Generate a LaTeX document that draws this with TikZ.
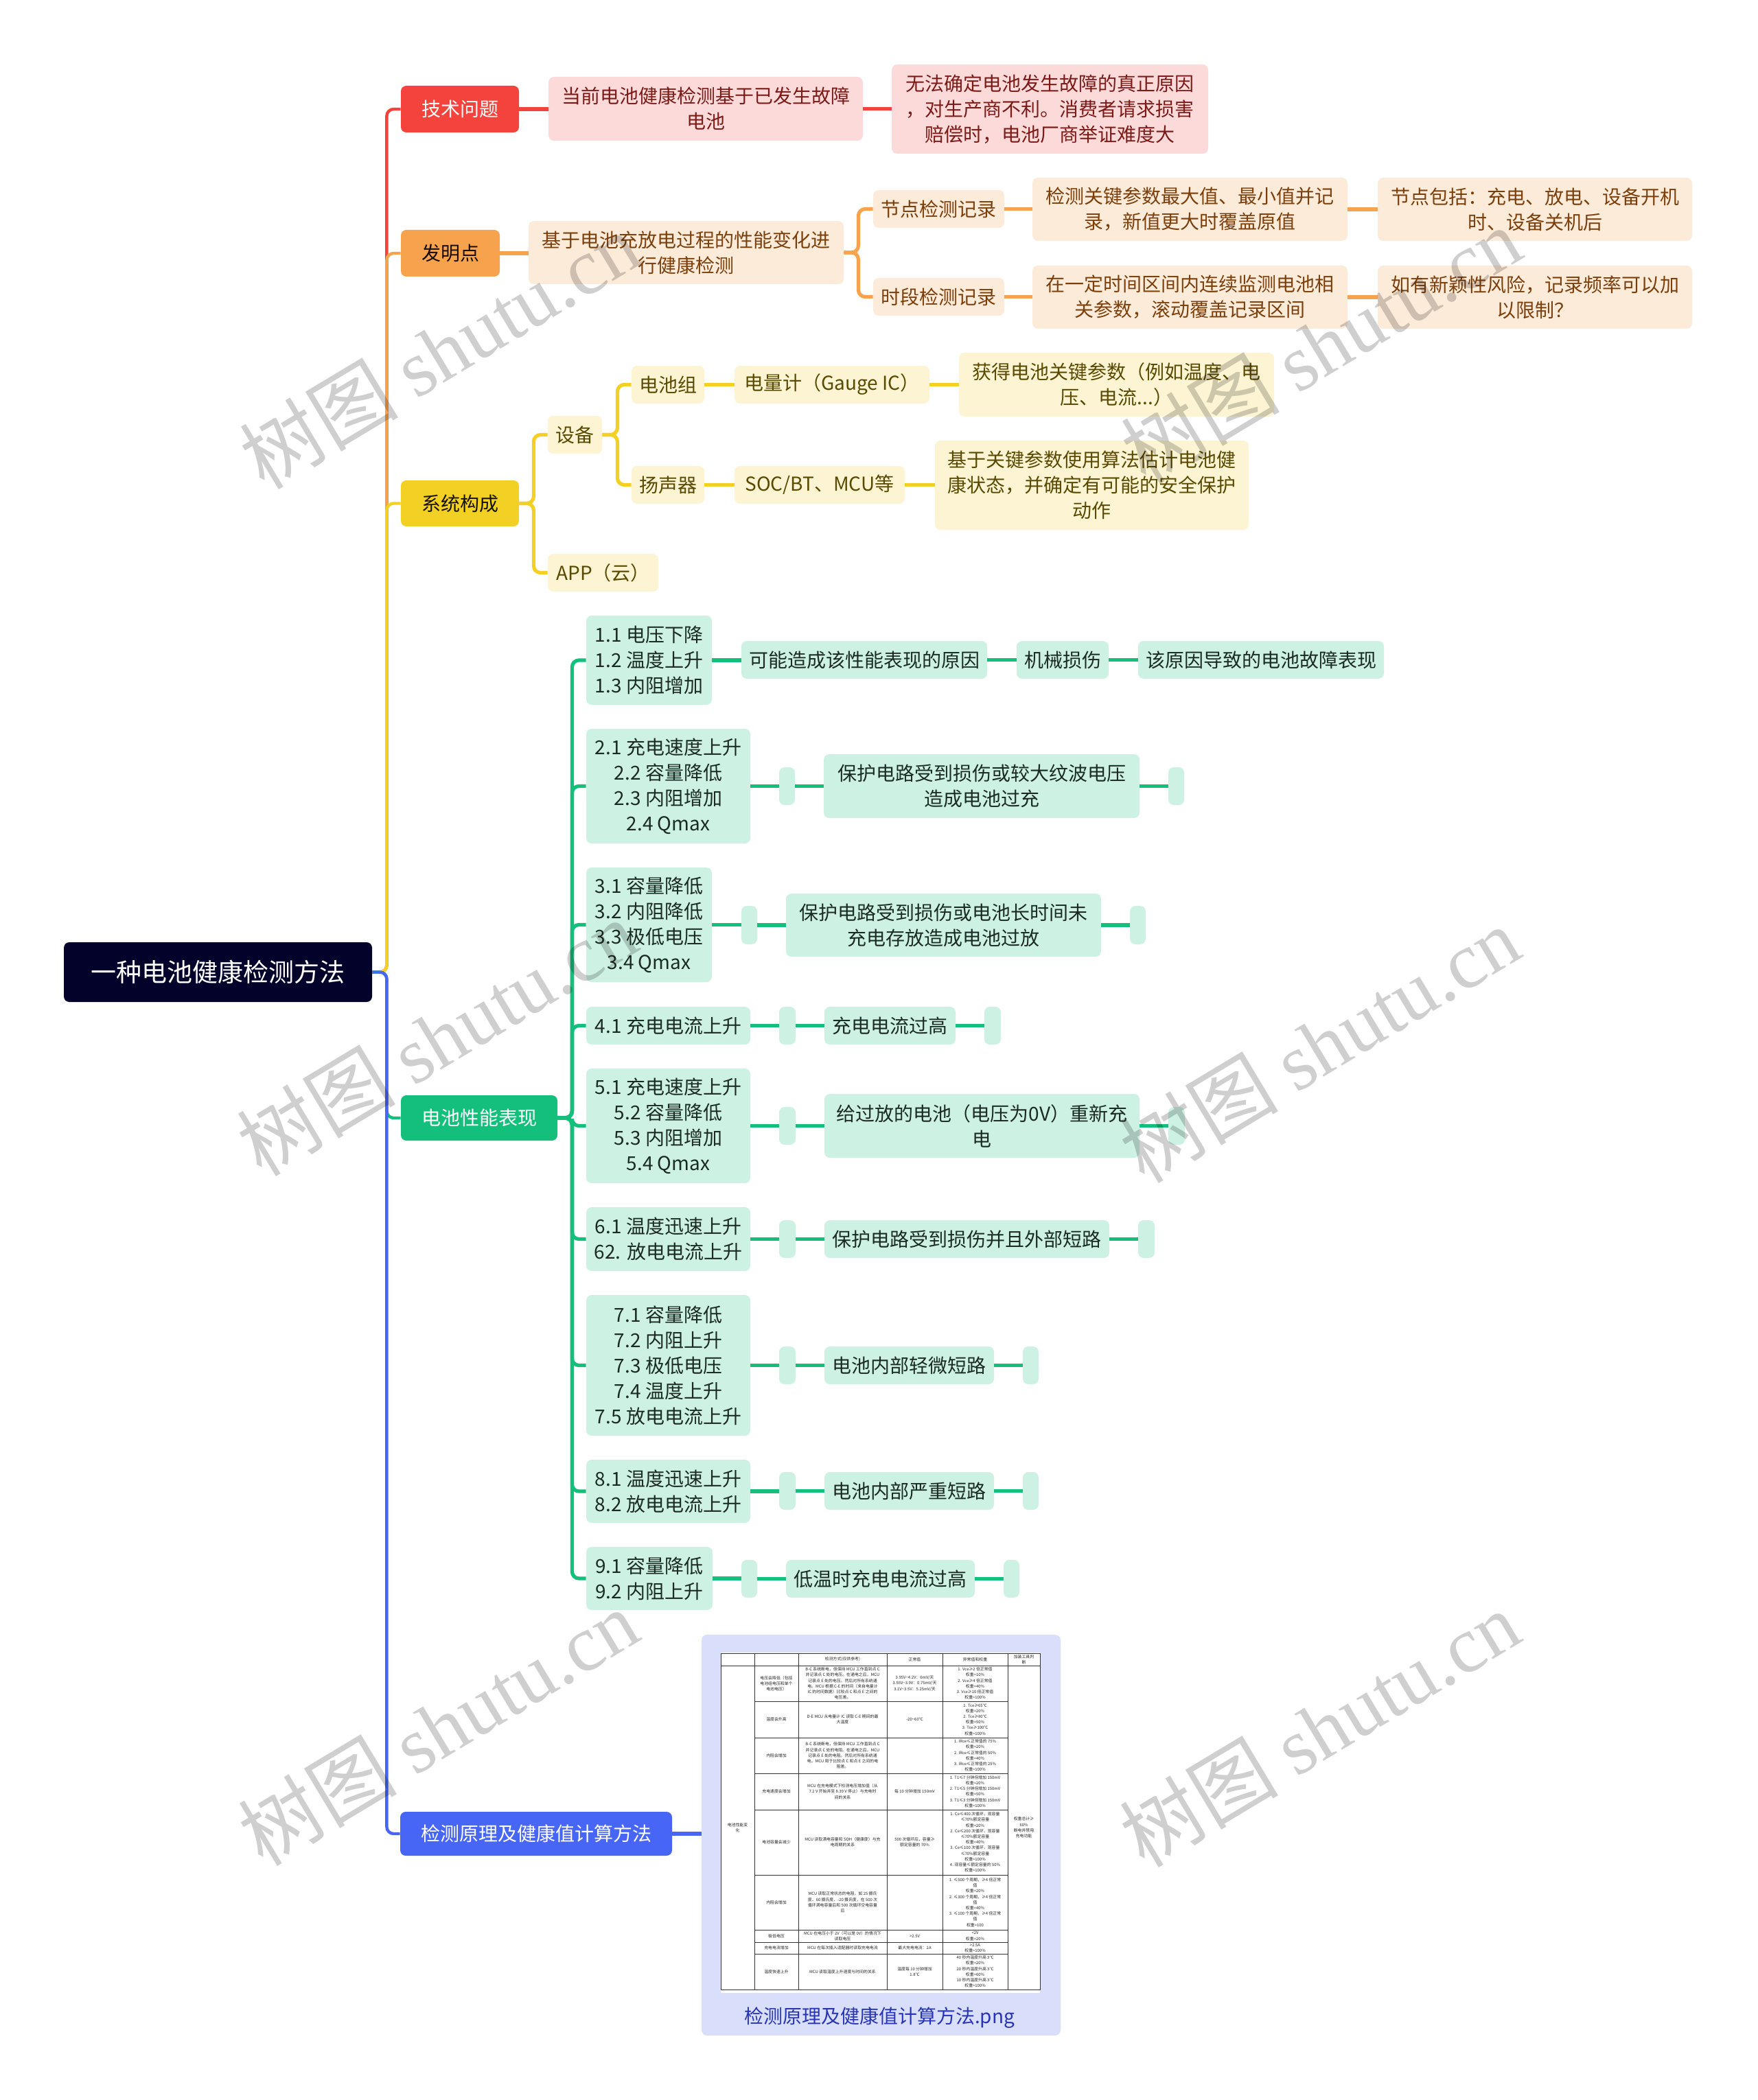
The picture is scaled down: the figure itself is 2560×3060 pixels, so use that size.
\documentclass[tikz,border=0pt]{standalone}
\usepackage{fontspec}
\setmainfont{Noto Sans CJK SC}
\newfontfamily\wmfont{Liberation Serif}
\definecolor{rootc}{HTML}{03022B}
\definecolor{redc}{HTML}{F4433C}
\definecolor{redl}{HTML}{FDDADA}
\definecolor{redt}{HTML}{7B1A16}
\definecolor{orgc}{HTML}{F7A24C}
\definecolor{orgl}{HTML}{FDEBDA}
\definecolor{orgt}{HTML}{7B3F0C}
\definecolor{ylwc}{HTML}{F3D024}
\definecolor{ylwl}{HTML}{FCF4D2}
\definecolor{ylwt}{HTML}{5A4900}
\definecolor{grnc}{HTML}{14BE7B}
\definecolor{grnl}{HTML}{CDF2E4}
\definecolor{grnt}{HTML}{1B2A24}
\definecolor{bluc}{HTML}{4766F5}
\definecolor{blul}{HTML}{D9DFFB}
\definecolor{blut}{HTML}{2634B5}
\tikzset{
  base/.style={rounded corners=4pt, inner sep=0pt, align=center, font=\fontsize{14}{18.5}\selectfont},
  rootbox/.style={base, fill=rootc, text=white, font=\fontsize{18.5}{22}\selectfont},
  redmain/.style={base, fill=redc, text=white},
  redsub/.style={base, fill=redl, text=redt},
  orgmain/.style={base, fill=orgc, text=black!80!orgt},
  orgsub/.style={base, fill=orgl, text=orgt},
  ylwmain/.style={base, fill=ylwc, text=black!75!ylwt},
  ylwsub/.style={base, fill=ylwl, text=ylwt},
  grnmain/.style={base, fill=grnc, text=white},
  grnsub/.style={base, fill=grnl, text=grnt},
  blumain/.style={base, fill=bluc, text=white},
  imgbox/.style={base, fill=blul},
  captxt/.style={inner sep=0pt, text=blut, font=\fontsize{14}{18}\selectfont},
  trunk/.style={line width=2.2pt, rounded corners=5pt},
  subln/.style={line width=2.6pt, rounded corners=5pt},
  tcell/.style={inner sep=0pt, align=center, text=black!85, font=\fontsize{2.95}{4.1}\selectfont},
  tline/.style={draw=black!80, line width=0.45pt},
  wm/.style={inner sep=0pt, text=black, text opacity=0.19, font=\fontsize{58}{58}\selectfont}
}
\newcommand\bx[7]{%
  \pgfmathsetmacro\bxw{(#4-#2)*0.5}%
  \pgfmathsetmacro\bxh{(#5-#3)*0.5}%
  \pgfmathsetmacro\bxx{(#2+#4)/2}%
  \pgfmathsetmacro\bxy{(#3+#5)/2}%
  \node[#6, minimum width=\bxw pt, minimum height=\bxh pt] (#1) at (\bxx,\bxy) {#7};}
\begin{document}
\begin{tikzpicture}[x=0.5pt, y=-0.5pt]
\fill[white] (0,0) rectangle (2560,3060);
\useasboundingbox (0,0) rectangle (2560,3060);

% ---------- nodes ----------
\bx{root}{93}{1373}{542}{1460}{rootbox}{一种电池健康检测方法}

\bx{tech}{584}{125}{756}{193}{redmain}{技术问题}
\bx{inv}{584}{335}{728}{403}{orgmain}{发明点}
\bx{sys}{584}{700}{756}{767}{ylwmain}{系统构成}
\bx{perf}{584}{1596}{812}{1662}{grnmain}{电池性能表现}
\bx{calc}{583}{2640}{979}{2704}{blumain}{检测原理及健康值计算方法}

\bx{r1}{799}{112}{1257}{205}{redsub}{当前电池健康检测基于已发生故障\\电池}
\bx{r2}{1299}{94}{1760}{224}{redsub}{无法确定电池发生故障的真正原因\\，对生产商不利。消费者请求损害\\赔偿时，电池厂商举证难度大}

\bx{o1}{770}{322}{1229}{414}{orgsub}{基于电池充放电过程的性能变化进\\行健康检测}
\bx{o2}{1272}{277}{1463}{332}{orgsub}{节点检测记录}
\bx{o3}{1272}{405}{1463}{460}{orgsub}{时段检测记录}
\bx{o4}{1504}{259}{1963}{351}{orgsub}{检测关键参数最大值、最小值并记\\录，新值更大时覆盖原值}
\bx{o5}{2007}{259}{2465}{351}{orgsub}{节点包括：充电、放电、设备开机\\时、设备关机后}
\bx{o6}{1504}{387}{1963}{479}{orgsub}{在一定时间区间内连续监测电池相\\关参数，滚动覆盖记录区间}
\bx{o7}{2007}{387}{2465}{479}{orgsub}{如有新颖性风险，记录频率可以加\\以限制？}

\bx{y1}{798}{606}{877}{661}{ylwsub}{设备}
\bx{y2}{798}{807}{959}{862}{ylwsub}{APP（云）}
\bx{y3}{920}{533}{1026}{588}{ylwsub}{电池组}
\bx{y4}{920}{679}{1026}{734}{ylwsub}{扬声器}
\bx{y5}{1070}{533}{1354}{588}{ylwsub}{电量计（Gauge IC）}
\bx{y6}{1070}{679}{1318}{734}{ylwsub}{SOC/BT、MCU等}
\bx{y7}{1397}{514}{1856}{607}{ylwsub}{获得电池关键参数（例如温度、电\\压、电流...）}
\bx{y8}{1362}{642}{1819}{772}{ylwsub}{基于关键参数使用算法估计电池健\\康状态，并确定有可能的安全保护\\动作}

\bx{g1}{854}{897}{1037}{1027}{grnsub}{1.1 电压下降\\1.2 温度上升\\1.3 内阻增加}
\bx{g1a}{1080}{934}{1438}{989}{grnsub}{可能造成该性能表现的原因}
\bx{g1b}{1481}{934}{1615}{989}{grnsub}{机械损伤}
\bx{g1c}{1658}{934}{2016}{989}{grnsub}{该原因导致的电池故障表现}

\bx{g2}{854}{1062}{1093}{1229}{grnsub}{2.1 充电速度上升\\2.2 容量降低\\2.3 内阻增加\\2.4 Qmax}
\bx{g2s}{1135}{1118}{1158}{1173}{grnsub}{}
\bx{g2a}{1200}{1099}{1660}{1192}{grnsub}{保护电路受到损伤或较大纹波电压\\造成电池过充}
\bx{g2t}{1702}{1118}{1725}{1173}{grnsub}{}

\bx{g3}{854}{1264}{1037}{1431}{grnsub}{3.1 容量降低\\3.2 内阻降低\\3.3 极低电压\\3.4 Qmax}
\bx{g3s}{1080}{1320}{1103}{1376}{grnsub}{}
\bx{g3a}{1145}{1302}{1604}{1394}{grnsub}{保护电路受到损伤或电池长时间未\\充电存放造成电池过放}
\bx{g3t}{1646}{1320}{1669}{1376}{grnsub}{}

\bx{g4}{854}{1467}{1093}{1522}{grnsub}{4.1 充电电流上升}
\bx{g4s}{1135}{1467}{1159}{1522}{grnsub}{}
\bx{g4a}{1201}{1467}{1392}{1522}{grnsub}{充电电流过高}
\bx{g4t}{1434}{1467}{1458}{1522}{grnsub}{}

\bx{g5}{854}{1557}{1093}{1724}{grnsub}{5.1 充电速度上升\\5.2 容量降低\\5.3 内阻增加\\5.4 Qmax}
\bx{g5s}{1135}{1613}{1159}{1668}{grnsub}{}
\bx{g5a}{1201}{1594}{1660}{1687}{grnsub}{给过放的电池（电压为0V）重新充\\电}
\bx{g5t}{1702}{1613}{1726}{1668}{grnsub}{}

\bx{g6}{854}{1759}{1093}{1852}{grnsub}{6.1 温度迅速上升\\62. 放电电流上升}
\bx{g6s}{1135}{1778}{1159}{1833}{grnsub}{}
\bx{g6a}{1201}{1778}{1616}{1833}{grnsub}{保护电路受到损伤并且外部短路}
\bx{g6t}{1658}{1778}{1682}{1833}{grnsub}{}

\bx{g7}{854}{1887}{1093}{2092}{grnsub}{7.1 容量降低\\7.2 内阻上升\\7.3 极低电压\\7.4 温度上升\\7.5 放电电流上升}
\bx{g7s}{1135}{1962}{1159}{2017}{grnsub}{}
\bx{g7a}{1201}{1962}{1448}{2017}{grnsub}{电池内部轻微短路}
\bx{g7t}{1490}{1962}{1513}{2017}{grnsub}{}

\bx{g8}{854}{2127}{1093}{2219}{grnsub}{8.1 温度迅速上升\\8.2 放电电流上升}
\bx{g8s}{1135}{2145}{1159}{2200}{grnsub}{}
\bx{g8a}{1201}{2145}{1448}{2200}{grnsub}{电池内部严重短路}
\bx{g8t}{1490}{2145}{1513}{2200}{grnsub}{}

\bx{g9}{854}{2254}{1038}{2346}{grnsub}{9.1 容量降低\\9.2 内阻上升}
\bx{g9s}{1080}{2273}{1103}{2328}{grnsub}{}
\bx{g9a}{1145}{2273}{1420}{2328}{grnsub}{低温时充电电流过高}
\bx{g9t}{1462}{2273}{1485}{2328}{grnsub}{}

\bx{img}{1022}{2382}{1545}{2966}{imgbox}{}
\node[captxt] (cap) at (1281,2940) {检测原理及健康值计算方法.png};

% ---------- trunk connectors ----------
\draw[trunk, redc] (root.east) -- ++(21,0) |- (tech.west);
\draw[trunk, orgc] (root.east) -- ++(21,0) |- (inv.west);
\draw[trunk, ylwc] (root.east) -- ++(21,0) |- (sys.west);
\draw[trunk, grnc] (root.east) -- ++(21,0) |- (perf.west);
\draw[trunk, bluc] (root.east) -- ++(21,0) |- (calc.west);

% ---------- red ----------
\draw[subln, redc] (tech.east) -- (tech.east -| r1.west);
\draw[subln, redc] (r1.east) -- (r1.east -| r2.west);
% ---------- orange ----------
\draw[subln, orgc] (inv.east) -- (inv.east -| o1.west);
\draw[subln, orgc] (o1.east) -- ++(21,0) |- (o2.west);
\draw[subln, orgc] (o1.east) -- ++(21,0) |- (o3.west);
\draw[subln, orgc] (o2.east) -- (o2.east -| o4.west);
\draw[subln, orgc] (o4.east) -- (o4.east -| o5.west);
\draw[subln, orgc] (o3.east) -- (o3.east -| o6.west);
\draw[subln, orgc] (o6.east) -- (o6.east -| o7.west);
% ---------- yellow ----------
\draw[subln, ylwc] (sys.east) -- ++(21,0) |- (y1.west);
\draw[subln, ylwc] (sys.east) -- ++(21,0) |- (y2.west);
\draw[subln, ylwc] (y1.east) -- ++(22,0) |- (y3.west);
\draw[subln, ylwc] (y1.east) -- ++(22,0) |- (y4.west);
\draw[subln, ylwc] (y3.east) -- (y3.east -| y5.west);
\draw[subln, ylwc] (y5.east) -- (y5.east -| y7.west);
\draw[subln, ylwc] (y4.east) -- (y4.east -| y6.west);
\draw[subln, ylwc] (y6.east) -- (y6.east -| y8.west);
% ---------- green ----------
\foreach \g in {g1,g2,g3,g4,g5,g6,g7,g8,g9}{
  \draw[subln, grnc] (perf.east) -- ++(21,0) |- (\g.west);
}
\draw[subln, grnc] (g1.east) -- (g1.east -| g1a.west);
\draw[subln, grnc] (g1a.east) -- (g1a.east -| g1b.west);
\draw[subln, grnc] (g1b.east) -- (g1b.east -| g1c.west);
\foreach \g in {g2,g3,g4,g5,g6,g7,g8,g9}{
  \draw[subln, grnc] (\g.east) -- (\g.east -| \g s.west);
  \draw[subln, grnc] (\g s.east) -- (\g s.east -| \g a.west);
  \draw[subln, grnc] (\g a.east) -- (\g a.east -| \g t.west);
}
% ---------- blue ----------
\draw[subln, bluc] (calc.east) -- (calc.east -| img.west);

% ---------- table picture ----------
\fill[white] (1050,2408) rectangle (1515,2904);
\draw[tline] (1050,2409) rectangle (1515,2899);
\draw[tline] (1050,2427) -- (1515,2427);
\foreach \xx in {1099,1163,1292,1373,1468}{ \draw[tline] (\xx,2409) -- (\xx,2899); }
\foreach \yy in {2479,2532,2584,2637,2732,2812,2830,2847}{ \draw[tline] (1099,\yy) -- (1468,\yy); }

\node[tcell] (h3) at (1227.5,2418) {检测方式(仅供参考)};
\node[tcell] (h4) at (1332.5,2418) {正常值};
\node[tcell] (h5) at (1420.5,2418) {异常值和权重};
\node[tcell] (h6) at (1491.5,2418) {加装工具判\\断};
\node[tcell] (c1) at (1074.5,2663) {电池性能变\\化};
\node[tcell] (c6) at (1491.5,2663) {权重总计≥\\60\%\\断电并禁用\\充电功能};

\node[tcell] (a2) at (1131,2453) {电压会降低（包括\\电池组电压和单个\\电池电压）};
\node[tcell] (a3) at (1227.5,2453) {B-C 系统断电，但保持 MCU 工作直到点 C\\并记录点 C 处的电压。在通电之后，MCU\\记录点 E 处的电压。然后对所有系统通\\电。MCU 根据 C-E 的时间（来自电量计\\IC 的时间数据）比较点 C 和点 E 之间的\\电压差。};
\node[tcell] (a4) at (1332.5,2453) {3.95V\textasciitilde4.2V：6mV/天\\3.55V\textasciitilde3.9V：0.75mV/天\\3.1V\textasciitilde3.5V：5.25mV/天};
\node[tcell] (a5) at (1420.5,2453) {1. Vce≥2 倍正常值\\权重=10\%\\2. Vce≥4 倍正常值\\权重=40\%\\3. Vce≥10 倍正常值\\权重=100\%};

\node[tcell] (b2) at (1131,2505.5) {温度会升高};
\node[tcell] (b3) at (1227.5,2505.5) {D-E MCU 从电量计 IC 读取 C-E 期间的最\\大温度};
\node[tcell] (b4) at (1332.5,2505.5) {-20\textasciitilde60℃};
\node[tcell] (b5) at (1420.5,2505.5) {1. Tce≥65℃\\权重=20\%\\2. Tce≥80℃\\权重=50\%\\3. Tce≥100℃\\权重=100\%};

\node[tcell] (d2) at (1131,2558) {内阻会增加};
\node[tcell] (d3) at (1227.5,2558) {B-C 系统断电，但保持 MCU 工作直到点 C\\并记录点 C 处的电阻。在通电之后，MCU\\记录点 E 处的电阻。然后对所有系统通\\电。MCU 用于比较点 C 和点 E 之间的电\\阻差。};
\node[tcell] (d5) at (1420.5,2558) {1. IRce≤正常值的 75\%\\权重=20\%\\2. IRce≤正常值的 50\%\\权重=40\%\\3. IRce≤正常值的 25\%\\权重=100\%};

\node[tcell] (e2) at (1131,2610.5) {充电速度会增加};
\node[tcell] (e3) at (1227.5,2610.5) {MCU 在充电模式下检测电压增加值（从\\7.2 V 开始并至 8.39 V 停止）与充电时\\间的关系};
\node[tcell] (e4) at (1332.5,2610.5) {每 10 分钟增加 150mV};
\node[tcell] (e5) at (1420.5,2610.5) {1. T1≤7 分钟但增加 150mV\\权重=20\%\\2. T1≤5 分钟但增加 150mV\\权重=50\%\\3. T1≤3 分钟但增加 150mV\\权重=100\%};

\node[tcell] (f2) at (1131,2684.5) {电池容量会减少};
\node[tcell] (f3) at (1227.5,2684.5) {MCU 读取满电容量和 SOH（健康度）与充\\电周期的关系};
\node[tcell] (f4) at (1332.5,2684.5) {500 次循环后，容量≥\\额定容量的 70\%};
\node[tcell] (f5) at (1420.5,2684.5) {1. Ce≤400 次循环，现容量\\≤70\%额定容量\\权重=20\%\\2. Ce≤200 次循环，现容量\\≤70\%额定容量\\权重=40\%\\3. Ce≤100 次循环，现容量\\≤70\%额定容量\\权重=100\%\\4. 现容量≤额定容量的 50\%\\权重=100\%};

\node[tcell] (k2) at (1131,2772) {内阻会增加};
\node[tcell] (k3) at (1227.5,2772) {MCU 读取正常状态的电阻，如 25 摄氏\\度、60 摄氏度、-20 摄氏度，在 500 次\\循环满电容量后和 500 次循环空电容量\\后};
\node[tcell] (k5) at (1420.5,2772) {1. ≤500 个周期，≥4 倍正常\\值\\权重=20\%\\2. ≤300 个周期，≥4 倍正常\\值\\权重=40\%\\3. ≤100 个周期，≥4 倍正常\\值\\权重=100};

\node[tcell] (m2) at (1131,2821) {极低电压};
\node[tcell] (m3) at (1227.5,2821) {MCU 在电压小于 2V（可以是 0V）的情况下\\读取电压};
\node[tcell] (m4) at (1332.5,2821) {>2.5V};
\node[tcell] (m5) at (1420.5,2821) {<2V\\权重=20\%};

\node[tcell] (n2) at (1131,2838.5) {充电电流增加};
\node[tcell] (n3) at (1227.5,2838.5) {MCU 在每次插入适配器时读取充电电流};
\node[tcell] (n4) at (1332.5,2838.5) {最大充电电流：2A};
\node[tcell] (n5) at (1420.5,2838.5) {>2.5A\\权重=100\%};

\node[tcell] (p2) at (1131,2873) {温度快速上升};
\node[tcell] (p3) at (1227.5,2873) {MCU 读取温度上升速度与时间的关系};
\node[tcell] (p4) at (1332.5,2873) {温度每 10 分钟增加\\1.8℃};
\node[tcell] (p5) at (1420.5,2873) {40 秒内温度升高 3℃\\权重=20\%\\20 秒内温度升高 3℃\\权重=60\%\\10 秒内温度升高 3℃\\权重=100\%};

% ---------- watermarks ----------
\node[wm, rotate=31] (wm1) at (640,511) {树图 {\wmfont shutu.cn}};
\node[wm, rotate=31] (wm2) at (1924,503) {树图 {\wmfont shutu.cn}};
\node[wm, rotate=31] (wm3) at (636,1512) {树图 {\wmfont shutu.cn}};
\node[wm, rotate=31] (wm4) at (1922,1522) {树图 {\wmfont shutu.cn}};
\node[wm, rotate=31] (wm5) at (638,2517) {树图 {\wmfont shutu.cn}};
\node[wm, rotate=31] (wm6) at (1922,2519) {树图 {\wmfont shutu.cn}};
\end{tikzpicture}
\end{document}
